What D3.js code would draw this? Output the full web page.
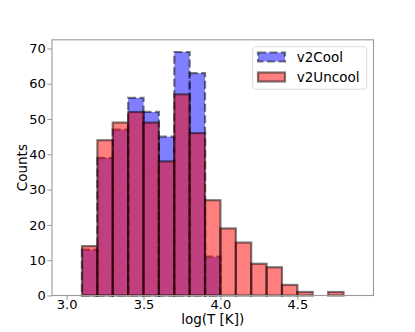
<!DOCTYPE html>
<html>
<head>
<meta charset="utf-8">
<script src="https://cdn.jsdelivr.net/npm/d3@7"></script>
<style>
  body { margin: 0; background: #fff; }
  text { font-family: "DejaVu Sans", sans-serif; }
</style>
</head>
<body>
<div id="chart"></div>
<script>
// bin left edges, width 0.1
const binStarts = [3.0, 3.1, 3.2, 3.3, 3.4, 3.5, 3.6, 3.7, 3.8, 3.9, 4.0, 4.1, 4.2, 4.3, 4.4, 4.5, 4.6, 4.7, 4.8]
const binWidth = 0.1
const v2Cool   = [0, 13, 39, 47, 56, 52, 45, 69, 63, 11, 0, 0, 0, 0, 0, 0, 0, 0, 0]
const v2Uncool = [0, 14, 44, 49, 52, 49, 38, 57, 46, 27, 19, 15, 9, 8, 3, 1, 0, 1, 0]
const xTicks = [3.0, 3.5, 4.0, 4.5]
const yTicks = [0, 10, 20, 30, 40, 50, 60, 70]

const width = 415
const height = 332
const margin = {top: 39.8, right: 41.5, bottom: 36.5, left: 52}

const svg = d3.select('#chart').append('svg')
  .attr('width', width)
  .attr('height', height)

const xScale = d3.scaleLinear()
  .domain([2.905, 4.995])
  .range([margin.left, width - margin.right])

const yScale = d3.scaleLinear()
  .domain([0, 72.45])
  .range([height - margin.bottom, margin.top])

function getDataForChart(arr) {
  return arr.map((v, i) => ({ x0: binStarts[i], x1: binStarts[i] + binWidth, y: v }))
}

function drawBars(data, cls, fill, dash) {
  svg.append('g')
    .attr('class', cls)
    .selectAll('rect')
    .data(data)
    .join('rect')
    .attr('x', d => xScale(d.x0))
    .attr('y', d => yScale(d.y))
    .attr('width', d => xScale(d.x1) - xScale(d.x0))
    .attr('height', d => yScale(0) - yScale(d.y))
    .attr('fill', fill)
    .attr('fill-opacity', 0.5)
    .attr('stroke', '#000')
    .attr('stroke-opacity', 0.5)
    .attr('stroke-width', 2.2)
    .attr('stroke-dasharray', dash)
}

drawBars(getDataForChart(v2Cool), 'chart-cool', 'blue', '8,3.5')
drawBars(getDataForChart(v2Uncool), 'chart-uncool', 'red', null)

// axes
const yAxis = g => g
  .attr('transform', `translate(${margin.left},0)`)
  .call(d3.axisLeft(yScale).tickValues(yTicks).tickFormat(d3.format('d')).tickSize(4.7).tickPadding(1.5))

const xAxis = g => g
  .attr('transform', `translate(0,${height - margin.bottom})`)
  .call(d3.axisBottom(xScale).tickValues(xTicks).tickFormat(d3.format('.1f')).tickSize(4.7).tickPadding(0))

svg.append('g').call(yAxis)
svg.append('g').attr('class', 'x-axis').call(xAxis)

svg.selectAll('.domain').remove()
svg.selectAll('.tick line').attr('stroke', '#999').attr('stroke-width', 1)
svg.selectAll('.tick text')
  .attr('font-size', '13px')
  .attr('font-family', '"DejaVu Sans", sans-serif')
  .attr('fill', '#000')
svg.selectAll('.x-axis .tick text')
  .attr('dy', null)
  .attr('y', 13.2)

// frame
svg.append('rect')
  .attr('x', margin.left)
  .attr('y', margin.top)
  .attr('width', width - margin.left - margin.right)
  .attr('height', height - margin.top - margin.bottom)
  .attr('fill', 'none')
  .attr('stroke', '#999')
  .attr('stroke-width', 1.1)

// labels
svg.append('text')
  .attr('x', (margin.left + width - margin.right) / 2)
  .attr('y', 323.5)
  .attr('text-anchor', 'middle')
  .attr('font-size', '13.5px')
  .text('log(T [K])')

svg.append('text')
  .attr('transform', `translate(27,${(margin.top + height - margin.bottom) / 2}) rotate(-90)`)
  .attr('text-anchor', 'middle')
  .attr('font-size', '13.5px')
  .text('Counts')

// legend
const legend = svg.append('g')

legend.append('rect')
  .attr('x', 252.7)
  .attr('y', 46.7)
  .attr('width', 114)
  .attr('height', 42.5)
  .attr('rx', 3)
  .attr('fill', '#fff')
  .attr('fill-opacity', 0.8)
  .attr('stroke', '#ddd')
  .attr('stroke-width', 1)

legend.append('rect')
  .attr('x', 258)
  .attr('y', 52.5)
  .attr('width', 27)
  .attr('height', 9)
  .attr('fill', 'blue')
  .attr('fill-opacity', 0.5)
  .attr('stroke', '#000')
  .attr('stroke-opacity', 0.5)
  .attr('stroke-width', 2.2)
  .attr('stroke-dasharray', '8,3.5')

legend.append('text')
  .attr('x', 296.7)
  .attr('y', 62.3)
  .attr('font-size', '13.5px')
  .text('v2Cool')

legend.append('rect')
  .attr('x', 258)
  .attr('y', 72.5)
  .attr('width', 27)
  .attr('height', 9)
  .attr('fill', 'red')
  .attr('fill-opacity', 0.5)
  .attr('stroke', '#000')
  .attr('stroke-opacity', 0.5)
  .attr('stroke-width', 2.2)

legend.append('text')
  .attr('x', 296.7)
  .attr('y', 82.3)
  .attr('font-size', '13.5px')
  .text('v2Uncool')
</script>
</body>
</html>
